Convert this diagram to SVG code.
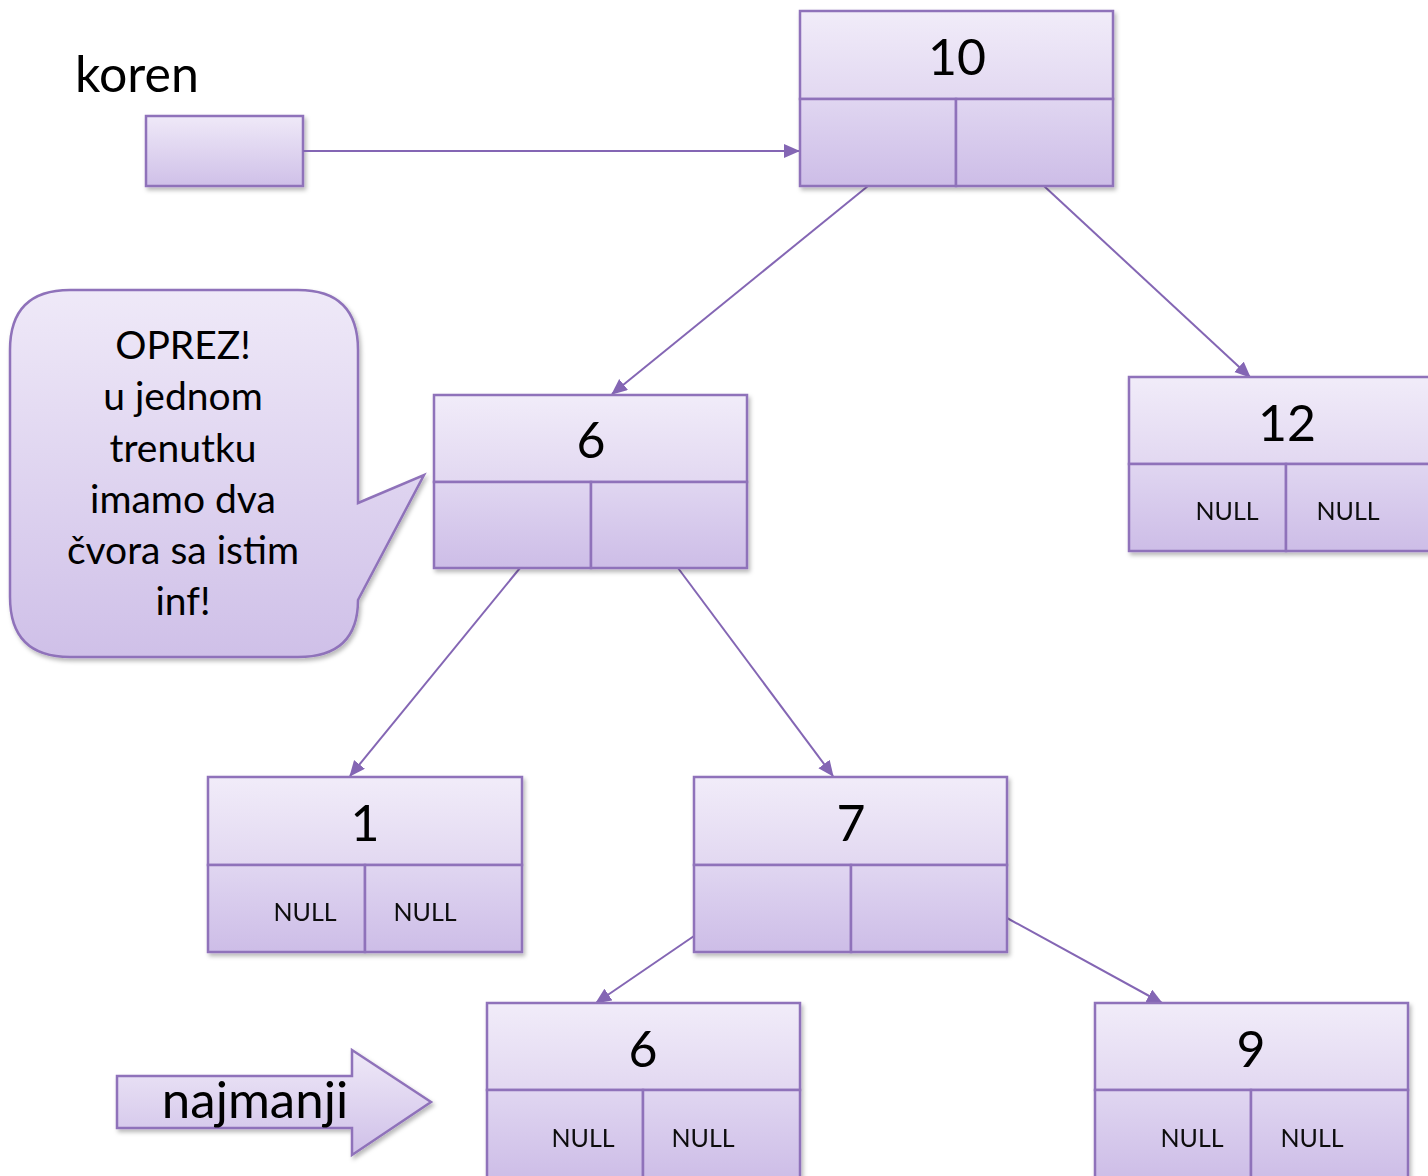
<svg xmlns="http://www.w3.org/2000/svg" width="1428" height="1176" viewBox="0 0 1428 1176">
  <style>
    .frame { fill: none; stroke: #8f72ba; stroke-width: 2.5; }
    .top { fill: url(#gTop); stroke: #8f72ba; stroke-width: 2.5; }
    .cell { fill: url(#gCell); stroke: #8f72ba; stroke-width: 2.5; }
    .val { font-family: Lato, "Liberation Sans", sans-serif; font-size: 50px; fill: #000; text-anchor: middle; }
    .null { font-family: Lato, "Liberation Sans", sans-serif; font-size: 25px; fill: #111; text-anchor: middle; }
    .label { font-family: Lato, "Liberation Sans", sans-serif; fill: #000; }
    .edge { fill: none; stroke: #8466b4; stroke-width: 2; marker-end: url(#head); }
  </style>
  <defs>
    <linearGradient id="gTop" x1="0" y1="0" x2="0" y2="1">
      <stop offset="0" stop-color="#f1ecf9"/>
      <stop offset="1" stop-color="#e2d8f1"/>
    </linearGradient>
    <linearGradient id="gCell" x1="0" y1="0" x2="0" y2="1">
      <stop offset="0" stop-color="#e0d6f1"/>
      <stop offset="1" stop-color="#cdbde7"/>
    </linearGradient>
    <linearGradient id="gBox" x1="0" y1="0" x2="0" y2="1">
      <stop offset="0" stop-color="#efe9f8"/>
      <stop offset="1" stop-color="#cfc0e8"/>
    </linearGradient>
    <filter id="shadow" x="-10%" y="-10%" width="120%" height="125%">
      <feDropShadow dx="2" dy="3" stdDeviation="2" flood-color="#000" flood-opacity="0.28"/>
    </filter>
    <marker id="head" markerUnits="userSpaceOnUse" markerWidth="18" markerHeight="16" refX="15" refY="7" orient="auto">
      <path d="M0,0 L16,7 L0,14 Z" fill="#8466b4"/>
    </marker>
  </defs>

  <!-- root pointer -->
  <g id="koren">
    <text class="label" x="75" y="92" font-size="50">koren</text>
    <rect x="146" y="116" width="157" height="70" fill="url(#gBox)" stroke="#8f72ba" stroke-width="2.5" filter="url(#shadow)"/>
  </g>

  <!-- tree links -->
  <g id="connectors">
    <line class="edge" x1="303" y1="151" x2="799" y2="151"/>
    <line class="edge" x1="868" y1="186" x2="612" y2="394"/>
    <line class="edge" x1="1044" y1="186" x2="1250" y2="377"/>
    <line class="edge" x1="520" y1="568" x2="350" y2="776"/>
    <line class="edge" x1="678" y1="568" x2="833" y2="776"/>
    <line class="edge" x1="694" y1="936" x2="596" y2="1003"/>
    <line class="edge" x1="1007" y1="918" x2="1162" y2="1003"/>
  </g>

  <!-- node 10 -->
  <g id="n10" filter="url(#shadow)">
    <rect class="top" x="800" y="11" width="313" height="88"/>
    <rect class="cell" x="800" y="99" width="156" height="87"/>
    <rect class="cell" x="956" y="99" width="157" height="87"/>
    <text class="val" x="957" y="75">10</text>
  </g>

  <!-- node 6 -->
  <g id="n6" filter="url(#shadow)">
    <rect class="top" x="434" y="395" width="313" height="87"/>
    <rect class="cell" x="434" y="482" width="157" height="86"/>
    <rect class="cell" x="591" y="482" width="156" height="86"/>
    <text class="val" x="591" y="458">6</text>
  </g>

  <!-- node 12 -->
  <g id="n12" filter="url(#shadow)">
    <rect class="top" x="1129" y="377" width="313" height="87"/>
    <rect class="cell" x="1129" y="464" width="157" height="87"/>
    <rect class="cell" x="1286" y="464" width="156" height="87"/>
    <text class="val" x="1287" y="441">12</text>
    <text class="null" x="1227" y="520">NULL</text>
    <text class="null" x="1348" y="520">NULL</text>
  </g>

  <!-- node 1 -->
  <g id="n1" filter="url(#shadow)">
    <rect class="top" x="208" y="777" width="314" height="88"/>
    <rect class="cell" x="208" y="865" width="157" height="87"/>
    <rect class="cell" x="365" y="865" width="157" height="87"/>
    <text class="val" x="365" y="841">1</text>
    <text class="null" x="305" y="921">NULL</text>
    <text class="null" x="425" y="921">NULL</text>
  </g>

  <!-- node 7 -->
  <g id="n7" filter="url(#shadow)">
    <rect class="top" x="694" y="777" width="313" height="88"/>
    <rect class="cell" x="694" y="865" width="157" height="87"/>
    <rect class="cell" x="851" y="865" width="156" height="87"/>
    <text class="val" x="851" y="841">7</text>
  </g>

  <!-- node 6 (second copy) -->
  <g id="n6b" filter="url(#shadow)">
    <rect class="top" x="487" y="1003" width="313" height="87"/>
    <rect class="cell" x="487" y="1090" width="156" height="90"/>
    <rect class="cell" x="643" y="1090" width="157" height="90"/>
    <text class="val" x="643" y="1067">6</text>
    <text class="null" x="583" y="1147">NULL</text>
    <text class="null" x="703" y="1147">NULL</text>
  </g>

  <!-- node 9 -->
  <g id="n9" filter="url(#shadow)">
    <rect class="top" x="1095" y="1003" width="313" height="87"/>
    <rect class="cell" x="1095" y="1090" width="156" height="90"/>
    <rect class="cell" x="1251" y="1090" width="157" height="90"/>
    <text class="val" x="1251" y="1067">9</text>
    <text class="null" x="1192" y="1147">NULL</text>
    <text class="null" x="1312" y="1147">NULL</text>
  </g>

  <!-- warning callout -->
  <g id="callout">
    <path d="M70,290 H298 Q358,290 358,350 V503 L424,475 L358,600 Q358,657 298,657 H70 Q10,657 10,597 V350 Q10,290 70,290 Z"
          fill="url(#gBox)" stroke="#8f72ba" stroke-width="2.5" filter="url(#shadow)"/>
    <g class="label" font-size="39" text-anchor="middle">
      <text x="183" y="359">OPREZ!</text>
      <text x="183" y="410">u jednom</text>
      <text x="183" y="462">trenutku</text>
      <text x="183" y="513">imamo dva</text>
      <text x="183" y="564">čvora sa istim</text>
      <text x="183" y="615">inf!</text>
    </g>
  </g>

  <!-- block arrow marking the smallest node -->
  <g id="najmanji">
    <path d="M117,1076 H352 V1050 L431,1102 L352,1155 V1128 H117 Z"
          fill="url(#gBox)" stroke="#8f72ba" stroke-width="2.5" filter="url(#shadow)"/>
    <text class="label" x="255" y="1118" font-size="51" text-anchor="middle">najmanji</text>
  </g>
</svg>
